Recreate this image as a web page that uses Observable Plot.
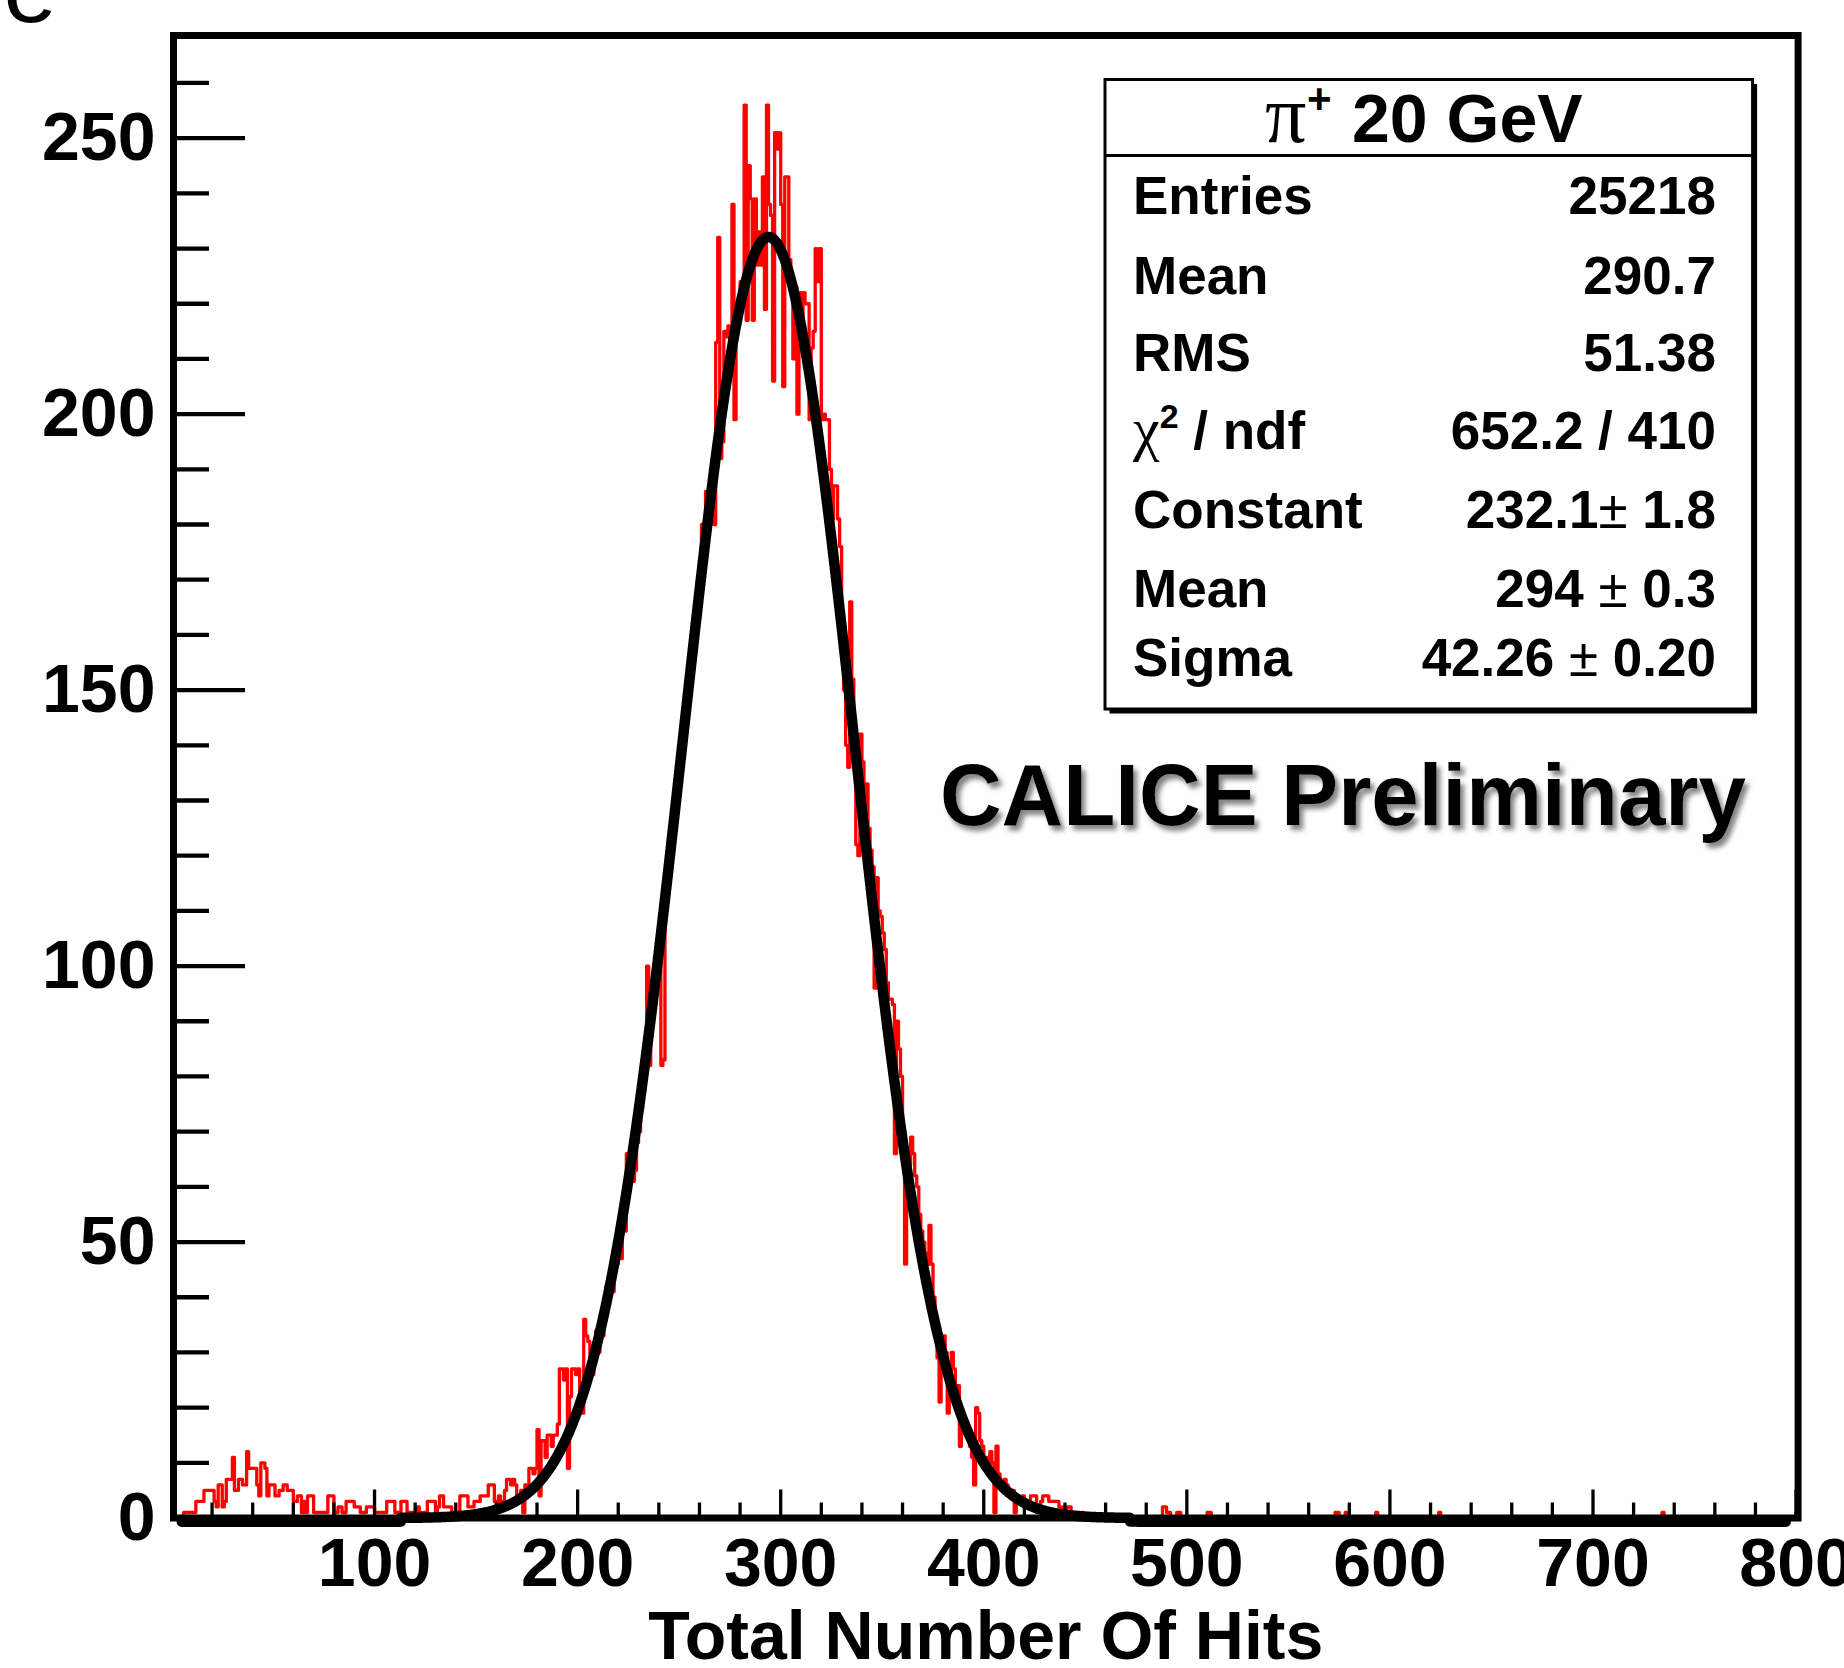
<!DOCTYPE html>
<html><head><meta charset="utf-8">
<script src="https://cdn.jsdelivr.net/npm/d3@7"></script>
<script src="https://cdn.jsdelivr.net/npm/@observablehq/plot@0.6"></script>
<style>
html,body{margin:0;padding:0;background:#fff;overflow:hidden;}
#chart svg{display:block;}
</style></head><body><div id="chart"></div>
<script>
// ---------- data ----------
// histogram bins of width 1, lower edges 1..800
const tailCounts = [ // bins 1..158
  0,0,0,0,0,1,1,1,1,1,
  1,3,3,3,3,5,5,5,5,5,
  3,2,6,6,2,3,7,7,7,11,
  5,5,7,7,6,6,12,9,9,9,
  9,6,4,10,10,9,4,6,6,6,
  4,4,5,5,6,6,5,5,5,3,
  3,4,4,1,3,1,4,4,4,1,
  1,1,1,1,1,1,4,4,4,1,
  1,2,2,1,1,3,3,3,3,2,
  2,2,1,1,1,2,2,2,2,1,
  1,1,1,1,1,3,3,3,3,1,
  1,1,3,3,3,1,1,1,1,1,
  2,1,0,1,1,3,3,3,3,1,
  2,4,4,2,2,2,2,1,1,1,
  1,4,4,4,4,2,2,2,3,3,
  3,4,4,4,4,6,6,6
];
const coreCounts = [ // bins 159..449
  3,
  2,4,3,3,5,7,7,6,7,6,
  4,3,5,1,6,5,9,9,8,9,
  16,4,14,14,11,15,15,13,15,15,
  17,27,27,25,27,9,22,27,27,26,
  27,20,19,36,33,32,27,26,31,34,
  30,35,33,37,42,40,44,41,47,46,
  51,47,54,52,66,60,63,61,63,68,
  70,74,77,84,100,82,90,94,98,101,
  104,82,83,112,113,117,122,127,131,133,
  136,138,145,150,152,155,160,162,166,170,
  168,180,178,186,181,187,184,180,213,232,
  192,195,215,214,216,210,238,199,216,217,
  224,221,256,217,245,239,217,239,227,233,
  227,243,219,256,238,236,206,251,248,251,
  238,205,243,243,228,223,210,223,200,222,
  215,222,220,220,199,212,215,230,224,230,
  199,200,199,199,190,181,187,187,181,176,
  160,150,140,136,166,152,140,122,120,142,
  137,126,133,125,121,118,96,116,110,109,
  106,103,97,94,94,93,66,90,85,80,
  70,46,66,64,69,66,62,60,55,52,
  50,48,46,53,46,40,36,29,21,27,
  33,30,19,26,30,27,23,24,13,16,
  18,17,15,13,11,6,20,19,14,13,
  10,11,9,12,10,1,13,8,6,5,
  7,6,5,4,5,1,4,3,3,4,
  3,2,3,4,4,4,1,2,3,4,
  4,4,3,3,3,3,3,2,1,2,
  1,2,2,1,1,0,1,0,1,0
];
const highBins = [ // [bin, count] for the sparse region 450..800
  [488,2],[489,2],[490,1],[491,1],[495,1],[496,1],[510,1],[511,1],
  [573,1],[574,1],[578,1],[593,1],[624,1],[734,1],[800,1]
];
// Gaussian fit parameters (from the statistics box)
const fitConstant = 232.1, fitMean = 294, fitSigma = 42.26;
const xTickLabels = [100,200,300,400,500,600,700,800];
const yTickLabels = [0,50,100,150,200,250];
const statTitle = "20 GeV";
const statLabels = ["Entries","Mean","RMS","χ2","Constant","Mean","Sigma"];
const statValues = ["25218","290.7","51.38","652.2 / 410","232.1","294","42.26"];
const statErrors = [null,null,null,null,"1.8","0.3","0.20"];
const xTitle = "Total Number Of Hits";
const watermark = "CALICE Preliminary";

// ---------- build ----------
const nBins = 800;
const counts = new Array(nBins).fill(0);
tailCounts.forEach((c,i)=>{counts[i]=c;});
coreCounts.forEach((c,i)=>{counts[158+i]=c;});
highBins.forEach(([b,c])=>{counts[b-1]=c;});
const hist = counts.map((c,i)=>({x:i+1,y:c}));
hist.push({x:nBins+1,y:counts[nBins-1]});

const gauss = x => fitConstant*Math.exp(-0.5*((x-fitMean)/fitSigma)**2);
const fitInner = d3.range(113, 472.01, 0.5).map(x=>({x,y:gauss(x)}));
const fitLeft = d3.range(5, 113.01, 1).map(x=>({x,y:gauss(x)}));
const fitRight = d3.range(472, 795.01, 1).map(x=>({x,y:gauss(x)}));

const W = 1844, H = 1668;
const mL = 173, mR = 46.4, mT = 35, mB = 150.5;
const innerW = W-mL-mR, innerH = H-mT-mB;

const xMinor = d3.range(20,800,20).filter(v=>v%100!==0);
const yMinor = d3.range(10,270,10).filter(v=>v%50!==0);
const yMajor = yTickLabels.filter(v=>v>0);

const font = "'Liberation Sans', Arial, Helvetica, sans-serif";

const svg = Plot.plot({
  width: W, height: H,
  marginLeft: mL, marginRight: mR, marginTop: mT, marginBottom: mB,
  style: {fontFamily: font, background: "white", color: "black"},
  x: {domain: [1, 801]},
  y: {domain: [0, 268.6]},
  marks: [
    Plot.line(hist, {x:"x", y:"y", curve:"step-after", stroke:"#ff0000", strokeWidth:3.3}),
    Plot.line(fitLeft, {x:"x", y:"y", stroke:"black", strokeWidth:10, dy:4}),
    Plot.line(fitRight, {x:"x", y:"y", stroke:"black", strokeWidth:10, dy:4}),
    Plot.line(fitInner, {x:"x", y:"y", stroke:"black", strokeWidth:10.5, strokeLinejoin:"round"}),
    Plot.tickX(xMinor, {x:d=>d, insetTop: innerH-15, stroke:"black", strokeWidth:3.3}),
    Plot.tickX(xTickLabels, {x:d=>d, insetTop: innerH-28, stroke:"black", strokeWidth:3.3}),
    Plot.tickY(yMinor, {y:d=>d, insetRight: innerW-36, stroke:"black", strokeWidth:4.3}),
    Plot.tickY(yMajor, {y:d=>d, insetRight: innerW-72, stroke:"black", strokeWidth:4.3}),
    Plot.frame({stroke:"black", strokeWidth:7}),
    Plot.axisX({ticks: xTickLabels, tickSize:0, tickPadding:19.5, fontSize:68, fontWeight:"bold", label:null, tickFormat:d=>String(d)}),
    Plot.axisY({ticks: yTickLabels, tickSize:0, tickPadding:18, fontSize:68, fontWeight:"bold", label:null, tickFormat:d=>String(d)}),
    Plot.text([xTitle], {frameAnchor:"bottom", dy:140.5, lineAnchor:"bottom", fontSize:68, fontWeight:"bold"})
  ]
});
document.getElementById("chart").appendChild(svg);

// ---------- annotations ----------
const s = d3.select(svg);
const defs = s.append("defs");
const f = defs.append("filter").attr("id","shadow").attr("x","-10%").attr("y","-30%").attr("width","130%").attr("height","170%");
f.append("feDropShadow").attr("dx",4).attr("dy",5).attr("stdDeviation",2.5).attr("flood-color","#777").attr("flood-opacity",0.9);

// clipped slide text at top-left
s.append("text").attr("x",57).attr("y",22).attr("text-anchor","end")
  .attr("font-family",font).attr("font-size",96).attr("fill","black").text("le");

// watermark
s.append("text").attr("x",940).attr("y",825).attr("text-anchor","start").attr("font-family",font).attr("font-weight","bold")
  .attr("font-size",88).attr("textLength",806).attr("lengthAdjust","spacingAndGlyphs")
  .attr("filter","url(#shadow)").attr("fill","black").text(watermark);

// stats box
const bx = 1105, by = 79.5, bw = 647.6, bh = 629.5;
const g = s.append("g").attr("font-family",font).attr("fill","black").attr("text-anchor","start");
g.append("rect").attr("x",bx+4.5).attr("y",by+4.5).attr("width",bw).attr("height",bh).attr("fill","black");
g.append("rect").attr("x",bx).attr("y",by).attr("width",bw).attr("height",bh).attr("fill","white").attr("stroke","black").attr("stroke-width",3);
g.append("line").attr("x1",bx).attr("x2",bx+bw).attr("y1",155.4).attr("y2",155.4).attr("stroke","black").attr("stroke-width",3);
// title
g.append("text").attr("x",1265).attr("y",141.5).attr("font-family","'Liberation Serif', 'DejaVu Serif', serif").attr("font-size",82).text("π");
g.append("text").attr("x",1307).attr("y",113).attr("font-weight","bold").attr("font-size",42).text("+");
g.append("text").attr("x",1352).attr("y",141.5).attr("font-weight","bold").attr("font-size",68).text(statTitle);

const rowY = [214, 294.2, 371.4, 449.4, 527.5, 607.3, 675.8];
const fs = 53;
statLabels.forEach((lab,i)=>{
  const t = g.append("text").attr("x",1133).attr("y",rowY[i]).attr("font-size",fs).attr("font-weight","bold");
  if (lab === "χ2") {
    t.append("tspan").attr("font-family","'Liberation Serif', 'DejaVu Serif', serif").attr("font-weight","normal").attr("font-size",60).text("χ");
    t.append("tspan").attr("font-size",34).attr("dy",-21).text("2");
    t.append("tspan").attr("dy",21).text(" / ndf");
  } else {
    t.text(lab);
  }
  const v = g.append("text").attr("x",1716).attr("y",rowY[i]).attr("text-anchor","end").attr("font-size",fs).attr("font-weight","bold");
  v.append("tspan").text(statValues[i]);
  if (statErrors[i] !== null) {
    v.append("tspan").attr("font-weight","normal").text(i===4 ? "±" : " ±");
    v.append("tspan").text(" " + statErrors[i]);
  }
});
</script></body></html>
